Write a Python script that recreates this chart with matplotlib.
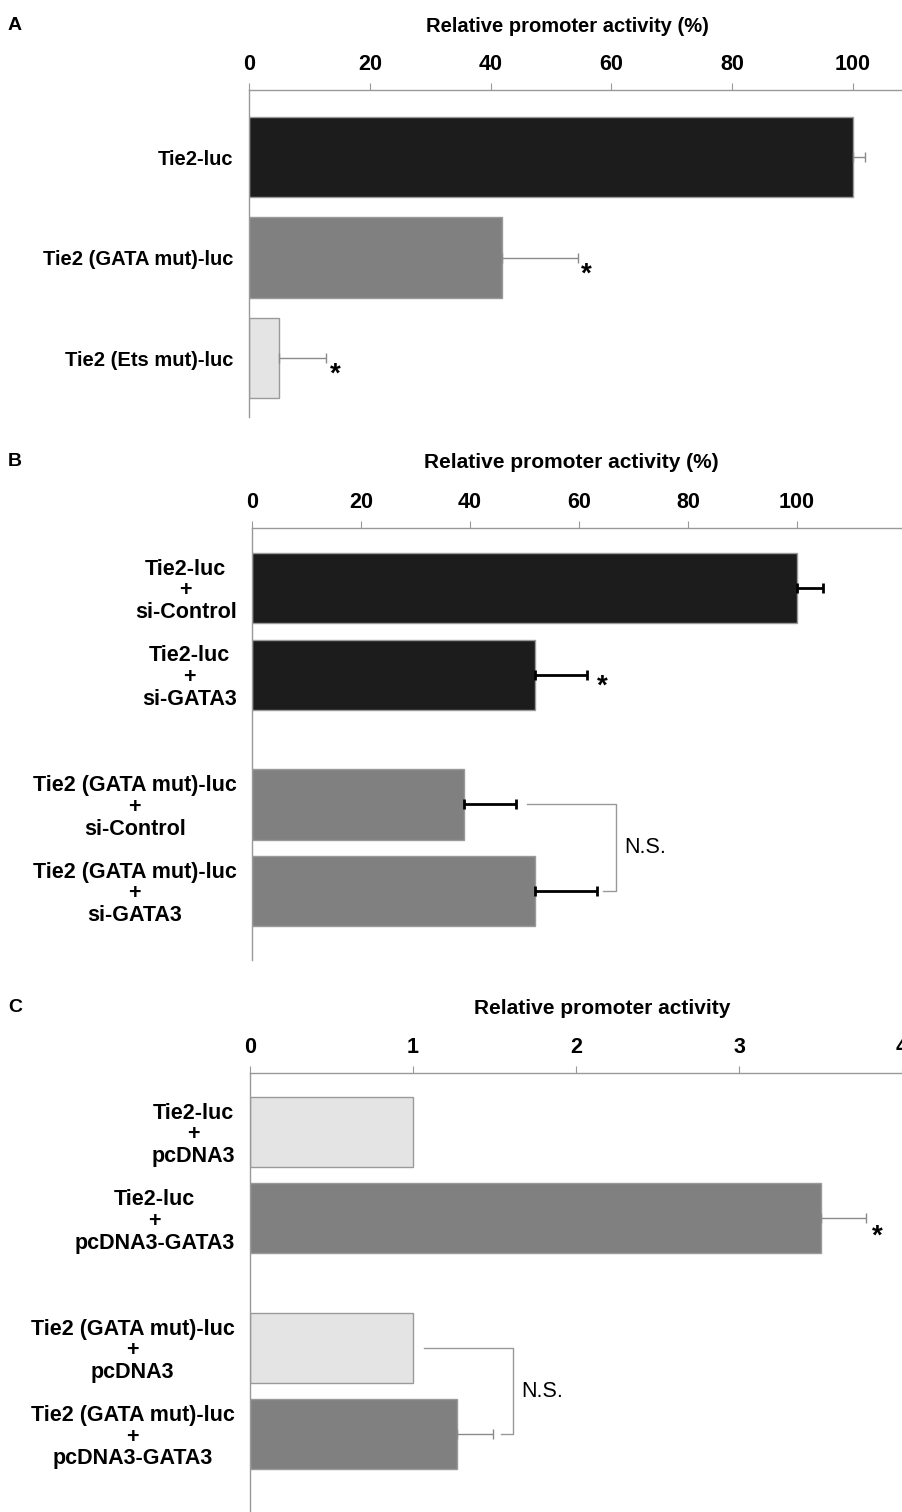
import numpy as np
import matplotlib
matplotlib.use("Agg")
import matplotlib.pyplot as plt

plt.rcParams['font.family'] = ['Liberation Sans', 'DejaVu Sans']

# ---- data ----
# panel A
a_labels = ["Tie2-luc", "Tie2 (GATA mut)-luc", "Tie2 (Ets mut)-luc"]
a_values = [100.0, 41.8, 5.0]
a_errors = [2.0, 12.6, 7.8]
a_stars = [False, True, True]

# panel B
b_labels = ["Tie2-luc\n+\nsi-Control", "Tie2-luc\n+\nsi-GATA3",
            "Tie2 (GATA mut)-luc\n+\nsi-Control", "Tie2 (GATA mut)-luc\n+\nsi-GATA3"]
b_values = [100.0, 51.9, 38.9, 51.9]
b_errors = [4.8, 9.6, 9.5, 11.4]
b_stars = [False, True, False, False]

# panel C
c_labels = ["Tie2-luc\n+\npcDNA3", "Tie2-luc\n+\npcDNA3-GATA3",
            "Tie2 (GATA mut)-luc\n+\npcDNA3", "Tie2 (GATA mut)-luc\n+\npcDNA3-GATA3"]
c_values = [1.0, 3.50, 1.0, 1.27]
c_errors = [0.0, 0.28, 0.0, 0.22]
c_stars = [False, True, False, False]

BLACK = '#1c1c1c'
GRAY = '#808080'
LIGHT = '#e4e4e4'
EDGE = '#9a9a9a'

W, H = 902, 1512
fig = plt.figure(figsize=(W / 100, H / 100), dpi=100)


def panel(left, top, bottom, xmax, ticks, pos, ylim, labels, values, errors,
          colors, height, errcolor, errlw, stars, star_off, lsize):
    ax = fig.add_axes([left / W, 1 - bottom / H, (W - left) / W, (bottom - top) / H])
    ax.barh(pos, values, height=height, color=colors, edgecolor=EDGE, linewidth=1)
    for p, v, e in zip(pos, values, errors):
        if e > 0:
            ax.errorbar(v, p, xerr=[[0], [e]], fmt='none', ecolor=errcolor,
                        elinewidth=errlw, capsize=3.5, capthick=errlw)
    for p, v, e, s in zip(pos, values, errors, stars):
        if s:
            ax.annotate('*', xy=(v + e, p), xytext=star_off, textcoords='offset pixels',
                        fontsize=20, fontweight='bold', ha='center', va='center')
    ax.set_xlim(0, xmax)
    ax.set_ylim(*ylim)
    ax.xaxis.tick_top()
    ax.set_xticks(ticks)
    ax.tick_params(axis='x', direction='out', length=5, width=0.8, color='#999999',
                   pad=5.5, labelsize=15.5)
    for t in ax.get_xticklabels():
        t.set_fontweight('bold')
    ax.set_yticks(pos)
    ax.set_yticklabels(labels, fontsize=lsize, fontweight='bold', linespacing=1.05)
    for t in ax.get_yticklabels():
        t.set_multialignment('center')
    ax.tick_params(axis='y', length=0, pad=11)
    for s in ['right', 'bottom']:
        ax.spines[s].set_visible(False)
    for s in ['top', 'left']:
        ax.spines[s].set_color('#999999')
        ax.spines[s].set_linewidth(1)
    return ax


def bracket(ax, pos, ends, gaps, xv, text, tx):
    ax.plot([ends[0] + gaps[0], xv, xv, ends[1] + gaps[1]],
            [pos[0], pos[0], pos[1], pos[1]], color='#999999', lw=1)
    ax.text(xv + tx, (pos[0] + pos[1]) / 2, text, fontsize=15.5, va='center', ha='left')


# A
pos_a = np.arange(3)
panel(249, 90, 417, 108.1, [0, 20, 40, 60, 80, 100], pos_a, (2.587, -0.667),
      a_labels, a_values, a_errors, [BLACK, GRAY, LIGHT], 0.8, '#8a8a8a', 1,
      a_stars, (9, -17), 14.5)
fig.text(567 / W, 1 - 26 / H, "Relative promoter activity (%)", fontsize=14.5,
         fontweight='bold', ha='center', va='center')
fig.text(15 / W, 1 - 25 / H, "A", fontsize=14, fontweight='bold', ha='center', va='center')

# B
pos_b = np.array([0, 1, 2.5, 3.5])
axb = panel(252, 528, 960, 119.3, [0, 20, 40, 60, 80, 100], pos_b, (4.296, -0.693),
            b_labels, b_values, b_errors, [BLACK, BLACK, GRAY, GRAY], 0.81, 'black', 2,
            b_stars, (15, -12), 15.5)
ends_b = [b_values[2] + b_errors[2], b_values[3] + b_errors[3]]
bracket(axb, pos_b[2:], ends_b, [2.1, 1.1], max(ends_b) + 3.5, "N.S.", 1.6)
fig.text(571 / W, 1 - 463 / H, "Relative promoter activity (%)", fontsize=15,
         fontweight='bold', ha='center', va='center')
fig.text(15 / W, 1 - 461 / H, "B", fontsize=14, fontweight='bold', ha='center', va='center')

# C
pos_c = np.array([0, 1, 2.5, 3.5])
colors_c = [LIGHT, GRAY, LIGHT, GRAY]
axc = panel(250, 1073, 1512, 3.99, [0, 1, 2, 3, 4], pos_c, (4.40, -0.684),
            c_labels, c_values, c_errors, colors_c, 0.81, '#8a8a8a', 1,
            c_stars, (11, -18), 15.5)
ends_c = [c_values[2] + c_errors[2], c_values[3] + c_errors[3]]
bracket(axc, pos_c[2:], ends_c, [0.07, 0.05], max(ends_c) + 0.125, "N.S.", 0.05)
fig.text(602 / W, 1 - 1008 / H, "Relative promoter activity", fontsize=15,
         fontweight='bold', ha='center', va='center')
fig.text(15 / W, 1 - 1007 / H, "C", fontsize=14, fontweight='bold', ha='center', va='center')

fig.savefig("out.png", dpi=100)
